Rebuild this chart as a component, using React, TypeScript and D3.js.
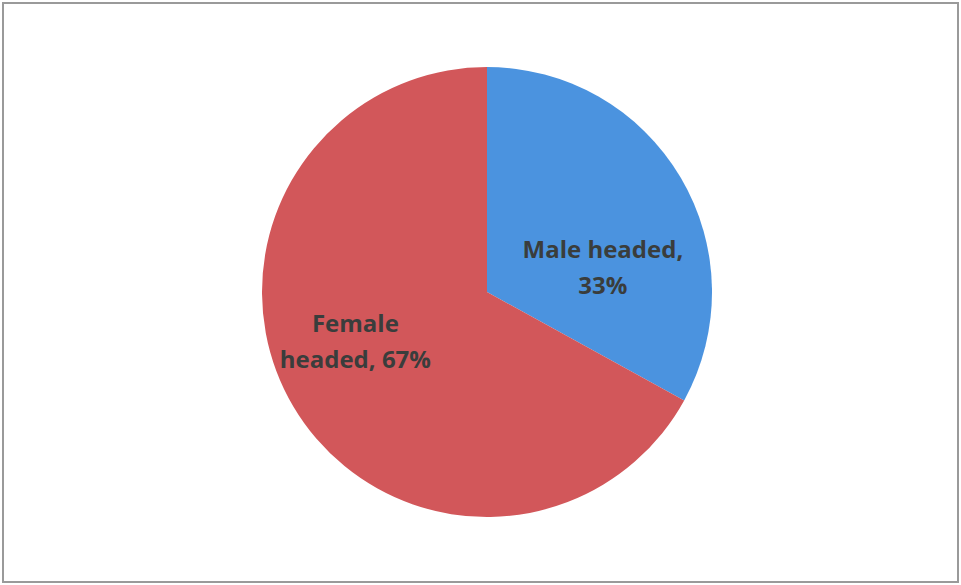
import React from "react";
import * as d3 from "d3";

const categories = ["Male headed", "Female headed"];
const values = [33, 67];
const colors = ["#4b93df", "#d2575a"];
const labelLines = [["Male headed,", "33%"], ["Female", "headed, 67%"]];
// label first-baseline offsets relative to pie center (in units of radius)
const labelPos = [[0.515, -0.15], [-0.585, 0.178]];

export default function App() {
  const W = 961, H = 585;
  const cx = 487, cy = 292, r = 225;
  const pie = d3.pie<number>().sort(null).value((d) => d)(values);
  const arc = d3.arc<d3.PieArcDatum<number>>().innerRadius(0).outerRadius(r);
  return (
    <svg width={W} height={H} style={{ position: "absolute", left: 0, top: 0, background: "#fff" }}>
      <rect x={3} y={3} width={955} height={579} fill="#fff" stroke="#9a9a9a" strokeWidth={2} />
      <g transform={`translate(${cx},${cy})`}>
        {pie.map((p, i) => (
          <path key={categories[i]} d={arc(p) || ""} fill={colors[i]} />
        ))}
        {labelLines.map((lines, i) => (
          <text
            key={i}
            x={labelPos[i][0] * r}
            y={labelPos[i][1] * r}
            textAnchor="middle"
            fontFamily="'Open Sans', sans-serif"
            fontWeight={700}
            fontSize={24}
            fill="#3a3d3c"
          >
            {lines.map((l, j) => (
              <tspan key={j} x={labelPos[i][0] * r} dy={j === 0 ? 0 : 36}>
                {l}
              </tspan>
            ))}
          </text>
        ))}
      </g>
    </svg>
  );
}
